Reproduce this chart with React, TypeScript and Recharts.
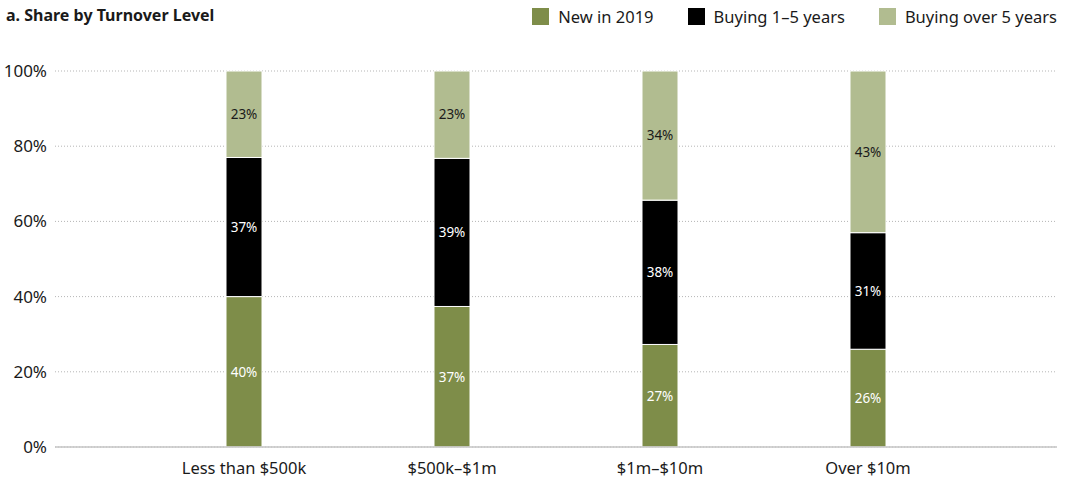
import { BarChart, Bar, XAxis, YAxis, CartesianGrid, LabelList } from 'recharts';

const categories = ['Less than $500k', '$500k–$1m', '$1m–$10m', 'Over $10m'];
const newIn2019 = [40, 37, 27, 26];
const buying1to5 = [37, 39, 38, 31];
const buyingOver5 = [23, 23, 34, 43];
const yTicks = [0, 0.2, 0.4, 0.6, 0.8, 1];

const series = [
  { key: 'newIn2019', name: 'New in 2019', color: '#7e8d49', labelColor: '#ffffff' },
  { key: 'buying1to5', name: 'Buying 1–5 years', color: '#000000', labelColor: '#ffffff' },
  { key: 'buyingOver5', name: 'Buying over 5 years', color: '#b1bc90', labelColor: '#1a1a1a' },
];

const data = categories.map((name, i) => ({
  name,
  newIn2019: newIn2019[i],
  buying1to5: buying1to5[i],
  buyingOver5: buyingOver5[i],
}));

const FONT = '"Noto Sans", sans-serif';

export default function App() {
  return (
    <div style={{ position: 'absolute', left: 0, top: 0, width: 1067, height: 481, background: '#fff' }}>
      <div style={{ position: 'absolute', left: 6, top: 4, fontFamily: FONT, fontSize: 16, fontWeight: 700, color: '#1a1a1a' }}>
        a. Share by Turnover Level
      </div>
      {/* legend, right aligned */}
      <div
        style={{
          position: 'absolute',
          right: 10,
          top: 5,
          display: 'flex',
          fontFamily: FONT,
          fontSize: 16.5,
          color: '#1a1a1a',
        }}
      >
        {series.map((s) => (
          <div key={s.key} style={{ display: 'flex', alignItems: 'center', marginLeft: 34 }}>
            <span style={{ width: 17, height: 17, background: s.color, display: 'inline-block', marginRight: 9 }} />
            <span>{s.name}</span>
          </div>
        ))}
      </div>
      <BarChart
        width={1067}
        height={481}
        data={data}
        stackOffset="expand"
        margin={{ top: 71, right: 10, left: 0, bottom: 4 }}
      >
        <CartesianGrid vertical={false} stroke="#b5b5b5" strokeDasharray="1 2" />
        <XAxis
          dataKey="name"
          padding={{ left: 85, right: 85 }}
          tickLine={false}
          axisLine={{ stroke: '#c4c4c4', strokeWidth: 1.5 }}
          tickMargin={9}
          tick={{ fill: '#1a1a1a', fontSize: 16.5, fontFamily: FONT }}
          height={30}
        />
        <YAxis
          width={55}
          domain={[0, 1]}
          ticks={yTicks}
          tickFormatter={(v: number) => `${Math.round(v * 100)}%`}
          tickLine={false}
          axisLine={false}
          tick={{ fill: '#1a1a1a', fontSize: 17, fontFamily: FONT }}
        />
        {series.map((s) => (
          <Bar
            key={s.key}
            dataKey={s.key}
            name={s.name}
            stackId="a"
            fill={s.color}
            stroke="#ffffff"
            strokeWidth={1}
            barSize={36}
            isAnimationActive={false}
          >
            <LabelList
              dataKey={s.key}
              position="center"
              formatter={(v: any) => `${v}%`}
              fill={s.labelColor}
              fontSize={13.5}
              fontFamily={FONT}
            />
          </Bar>
        ))}
      </BarChart>
    </div>
  );
}
